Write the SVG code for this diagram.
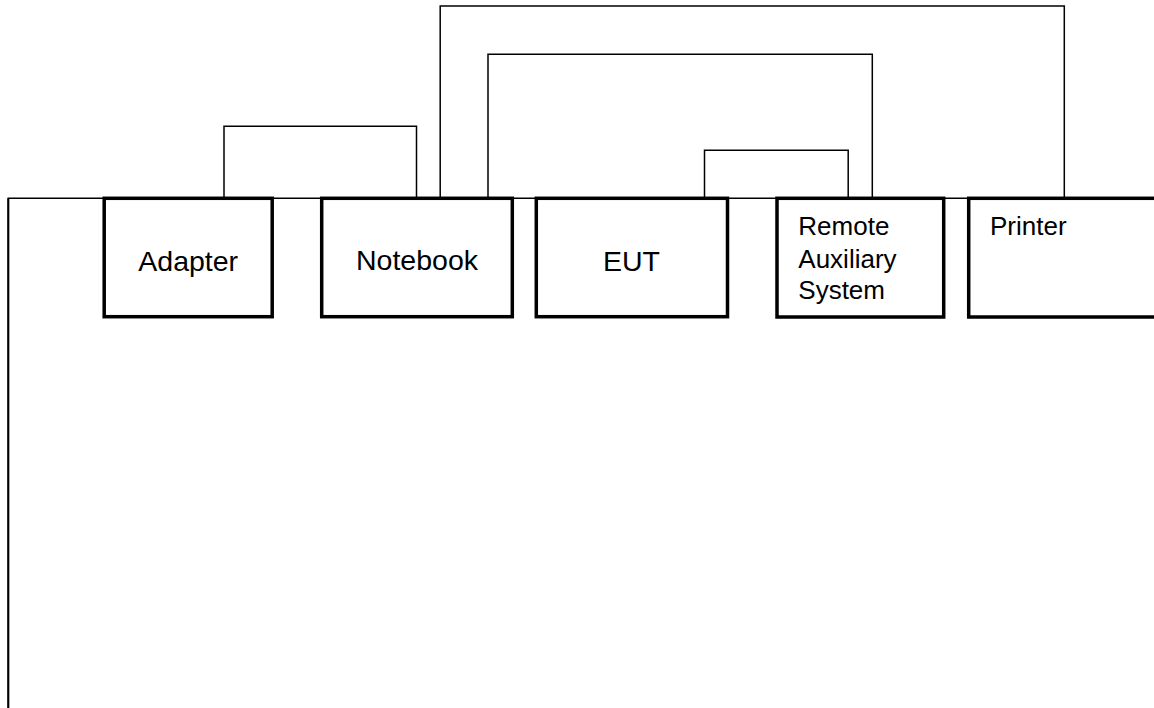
<svg xmlns="http://www.w3.org/2000/svg" width="1154" height="708" viewBox="0 0 1154 708">
<style>
.box{fill:#fff;stroke:#000;stroke-width:3.5}
.wire{fill:none;stroke:#000;stroke-width:1.5}
.lbl{font-family:"Liberation Sans",Arial,sans-serif;font-size:28.5px;fill:#000}
.lbl2{font-family:"Liberation Sans",Arial,sans-serif;font-size:26px;fill:#000}
</style>
<rect width="1154" height="708" fill="#fff"/>
<g id="connectors">
<polyline class="wire" points="8.3,708 8.3,198.3 1154,198.3"/>
<line x1="8.3" y1="198.3" x2="8.3" y2="708" stroke="#000" stroke-width="2"/>
<polyline class="wire" points="224,198 224,126.3 416.5,126.3 416.5,198"/>
<polyline class="wire" points="440.2,198 440.2,6 1064.3,6 1064.3,198"/>
<polyline class="wire" points="488,198 488,54.3 872.3,54.3 872.3,198"/>
<polyline class="wire" points="704.5,198 704.5,150.3 848.2,150.3 848.2,198"/>
</g>
<g id="adapter">
<rect class="box" x="104.2" y="198.3" width="168" height="118.4"/>
<text class="lbl" x="188.2" y="270.5" text-anchor="middle">Adapter</text>
</g>
<g id="notebook">
<rect class="box" x="321.7" y="198.3" width="190.6" height="118.4"/>
<text class="lbl" x="417" y="270" text-anchor="middle">Notebook</text>
</g>
<g id="eut">
<rect class="box" x="536.3" y="198.3" width="191.2" height="118.4"/>
<text class="lbl" x="631.5" y="270.5" text-anchor="middle">EUT</text>
</g>
<g id="remote">
<rect class="box" x="777" y="198.3" width="166.7" height="118.7"/>
<text class="lbl2" x="798.3" y="235">Remote</text>
<text class="lbl2" x="798.3" y="267.5">Auxiliary</text>
<text class="lbl2" x="798.3" y="298.5">System</text>
</g>
<g id="printer">
<rect class="box" x="968.7" y="198.3" width="200" height="118.7"/>
<text class="lbl2" x="990" y="235">Printer</text>
</g>
</svg>
